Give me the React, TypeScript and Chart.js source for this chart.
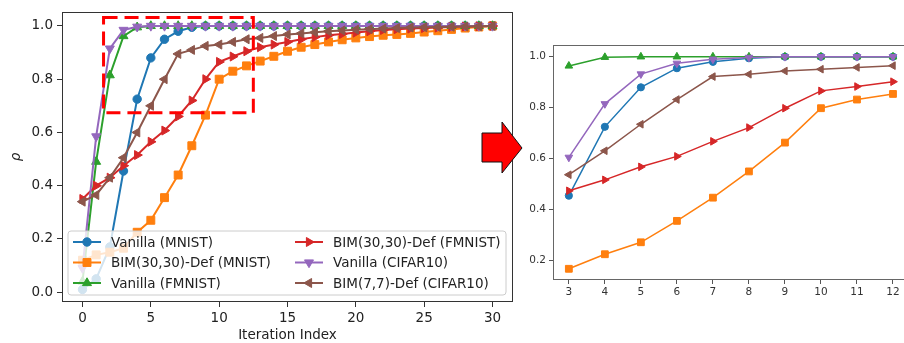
import React, { useEffect, useRef } from "react";
import { Chart, registerables } from "chart.js";
Chart.register(...registerables);

const FONT = "'DejaVu Sans', 'Liberation Sans', sans-serif";

// ---------- main chart data ----------
const iterationIndex = [0, 1, 2, 3, 4, 5, 6, 7, 8, 9, 10, 11, 12, 13, 14, 15, 16, 17, 18, 19, 20, 21, 22, 23, 24, 25, 26, 27, 28, 29, 30];
const vanillaMnist = [0.01, 0.05, 0.17, 0.455, 0.725, 0.88, 0.95, 0.98, 0.995, 1.0, 1.0, 1.0, 1.0, 1.0, 1.0, 1.0, 1.0, 1.0, 1.0, 1.0, 1.0, 1.0, 1.0, 1.0, 1.0, 1.0, 1.0, 1.0, 1.0, 1.0, 1.0];
const bimMnist = [0.12, 0.14, 0.15, 0.165, 0.225, 0.27, 0.355, 0.44, 0.55, 0.665, 0.8, 0.83, 0.85, 0.868, 0.886, 0.905, 0.92, 0.93, 0.94, 0.948, 0.955, 0.96, 0.965, 0.968, 0.972, 0.977, 0.982, 0.987, 0.992, 0.996, 1.0];
const vanillaFmnist = [0.04, 0.49, 0.815, 0.962, 0.995, 1.0, 1.0, 1.0, 1.0, 1.0, 1.0, 1.0, 1.0, 1.0, 1.0, 1.0, 1.0, 1.0, 1.0, 1.0, 1.0, 1.0, 1.0, 1.0, 1.0, 1.0, 1.0, 1.0, 1.0, 1.0, 1.0];
const bimFmnist = [0.35, 0.4, 0.43, 0.475, 0.515, 0.565, 0.607, 0.66, 0.72, 0.8, 0.865, 0.885, 0.905, 0.92, 0.93, 0.94, 0.95, 0.958, 0.965, 0.97, 0.975, 0.98, 0.985, 0.988, 0.99, 0.992, 0.994, 0.996, 0.998, 0.999, 1.0];
const vanillaCifar = [0.09, 0.585, 0.915, 0.985, 0.997, 1.0, 1.0, 1.0, 1.0, 1.0, 1.0, 1.0, 1.0, 1.0, 1.0, 1.0, 1.0, 1.0, 1.0, 1.0, 1.0, 1.0, 1.0, 1.0, 1.0, 1.0, 1.0, 1.0, 1.0, 1.0, 1.0];
const bimCifar = [0.34, 0.365, 0.43, 0.505, 0.6, 0.7, 0.8, 0.895, 0.91, 0.925, 0.93, 0.94, 0.95, 0.955, 0.962, 0.968, 0.972, 0.976, 0.98, 0.983, 0.986, 0.988, 0.99, 0.992, 0.994, 0.995, 0.996, 0.997, 0.998, 0.999, 1.0];

const mainXTicks = [0, 5, 10, 15, 20, 25, 30];
const mainYTicks = [0.0, 0.2, 0.4, 0.6, 0.8, 1.0];

// ---------- zoomed chart data ----------
const zoomIndex = [3, 4, 5, 6, 7, 8, 9, 10, 11, 12];
const zoomVanillaMnist = [0.455, 0.725, 0.88, 0.955, 0.98, 0.994, 1.0, 1.0, 1.0, 1.0];
const zoomBimMnist = [0.168, 0.225, 0.272, 0.356, 0.447, 0.55, 0.663, 0.798, 0.832, 0.854];
const zoomVanillaFmnist = [0.964, 0.998, 1.0, 1.0, 1.0, 1.0, 1.0, 1.0, 1.0, 1.0];
const zoomBimFmnist = [0.474, 0.517, 0.568, 0.609, 0.668, 0.722, 0.798, 0.866, 0.883, 0.902];
const zoomVanillaCifar = [0.605, 0.815, 0.932, 0.974, 0.99, 0.997, 1.0, 1.0, 1.0, 1.0];
const zoomBimCifar = [0.537, 0.631, 0.735, 0.832, 0.922, 0.931, 0.944, 0.951, 0.958, 0.965];

const zoomXTicks = [3, 4, 5, 6, 7, 8, 9, 10, 11, 12];
const zoomYTicks = [0.2, 0.4, 0.6, 0.8, 1.0];

// ---------- series meta ----------
const seriesNames = [
  "Vanilla (MNIST)",
  "BIM(30,30)-Def (MNIST)",
  "Vanilla (FMNIST)",
  "BIM(30,30)-Def (FMNIST)",
  "Vanilla (CIFAR10)",
  "BIM(7,7)-Def (CIFAR10)",
];
const seriesColors = ["#1f77b4", "#ff7f0e", "#2ca02c", "#d62728", "#9467bd", "#8c564b"];
const seriesMarkers = ["circle", "rect", "triangle", "triangle", "triangle", "triangle"];
const seriesRotations = [0, 0, 0, 90, 180, 270];

const mainSeries = [vanillaMnist, bimMnist, vanillaFmnist, bimFmnist, vanillaCifar, bimCifar];
const zoomSeries = [zoomVanillaMnist, zoomBimMnist, zoomVanillaFmnist, zoomBimFmnist, zoomVanillaCifar, zoomBimCifar];

type Sizes = { [k: string]: number };

function buildDatasets(xs: number[], series: number[][], sizes: Sizes, lw: number) {
  return series.map((vals, i) => ({
    label: seriesNames[i],
    data: vals.map((v, j) => ({ x: xs[j], y: v })),
    borderColor: seriesColors[i],
    backgroundColor: seriesColors[i],
    borderWidth: lw,
    pointStyle: seriesMarkers[i],
    pointRotation: seriesRotations[i],
    pointRadius: sizes[seriesMarkers[i]],
    pointBorderWidth: 1,
    pointBorderColor: seriesColors[i],
    pointBackgroundColor: seriesColors[i],
    order: series.length - 1 - i,
    tension: 0,
    fill: false,
  }));
}

function drawMarker(ctx: CanvasRenderingContext2D, style: string, rot: number, x: number, y: number, r: number, color: string) {
  ctx.save();
  ctx.fillStyle = color;
  ctx.strokeStyle = color;
  ctx.lineWidth = 1;
  ctx.beginPath();
  if (style === "circle") {
    ctx.arc(x, y, r, 0, Math.PI * 2);
  } else if (style === "rect") {
    const s = r * Math.SQRT1_2;
    ctx.rect(x - s, y - s, 2 * s, 2 * s);
  } else {
    let a = (rot * Math.PI) / 180;
    ctx.moveTo(x + Math.sin(a) * r, y - Math.cos(a) * r);
    a += (2 * Math.PI) / 3;
    ctx.lineTo(x + Math.sin(a) * r, y - Math.cos(a) * r);
    a += (2 * Math.PI) / 3;
    ctx.lineTo(x + Math.sin(a) * r, y - Math.cos(a) * r);
    ctx.closePath();
  }
  ctx.fill();
  ctx.stroke();
  ctx.restore();
}

type AxisParams = {
  xMin: number; xMax: number; yMin: number; yMax: number;
  xTicks: number[]; yTicks: number[];
  yWidth: number; xHeight: number;
  padding: { top: number; right: number; left: number; bottom: number };
  fontSize: number; tickLen: number; tickColor: string; labelColor: string;
  xPad: number; yPad: number;
  xTitle?: string; yTitle?: string;
};

function makeOptions(p: AxisParams): any {
  const font = { family: FONT, size: p.fontSize };
  return {
    responsive: false,
    animation: false,
    events: [],
    layout: { padding: p.padding },
    plugins: { legend: { display: false }, tooltip: { enabled: false } },
    scales: {
      x: {
        type: "linear",
        min: p.xMin,
        max: p.xMax,
        afterBuildTicks: (s: any) => { s.ticks = p.xTicks.map((v) => ({ value: v })); },
        afterFit: (s: any) => { s.height = p.xHeight; },
        grid: { display: true, drawOnChartArea: false, drawTicks: true, tickLength: p.tickLen, tickColor: p.tickColor, tickWidth: 1 },
        border: { display: false },
        ticks: { font, color: p.labelColor, padding: p.xPad, maxRotation: 0, autoSkip: false, callback: (v: number) => String(v) },
        title: p.xTitle
          ? { display: true, text: p.xTitle, color: p.labelColor, font: { family: FONT, size: 13.5 }, padding: { top: 0, bottom: -1 } }
          : { display: false },
      },
      y: {
        type: "linear",
        min: p.yMin,
        max: p.yMax,
        afterBuildTicks: (s: any) => { s.ticks = p.yTicks.map((v) => ({ value: v })); },
        afterFit: (s: any) => { s.width = p.yWidth; },
        grid: { display: true, drawOnChartArea: false, drawTicks: true, tickLength: p.tickLen, tickColor: p.tickColor, tickWidth: 1 },
        border: { display: false },
        ticks: { font, color: p.labelColor, padding: p.yPad, autoSkip: false, callback: (v: number) => v.toFixed(1) },
        title: p.yTitle
          ? { display: true, text: p.yTitle, color: p.labelColor, font: { family: FONT, size: 13.5, style: "italic" }, padding: { top: 8, bottom: 0 } }
          : { display: false },
      },
    },
  };
}

function spinesPlugin(color: string) {
  return {
    id: "spines",
    afterDatasetsDraw(chart: any) {
      const { ctx, chartArea: a } = chart;
      ctx.save();
      ctx.strokeStyle = color;
      ctx.lineWidth = 1;
      ctx.strokeRect(Math.round(a.left) + 0.5, Math.round(a.top) + 0.5, Math.round(a.right - a.left) - 1, Math.round(a.bottom - a.top) - 1);
      ctx.restore();
    },
  };
}

const zoomBox = { x1: 1.54, x2: 12.5, y1: 0.674, y2: 1.032 };

const annotationPlugin = {
  id: "annotations",
  afterDatasetsDraw(chart: any) {
    const { ctx, scales } = chart;
    const xs = scales.x, ys = scales.y;
    const l = xs.getPixelForValue(zoomBox.x1), r = xs.getPixelForValue(zoomBox.x2);
    const t = ys.getPixelForValue(zoomBox.y2), b = ys.getPixelForValue(zoomBox.y1);
    ctx.save();
    ctx.strokeStyle = "#ff0000";
    ctx.lineWidth = 3;
    ctx.setLineDash([14, 7]);
    ctx.strokeRect(l, t, r - l, b - t);
    ctx.restore();
  },
  afterDraw(chart: any) {
    const { ctx, chartArea: a } = chart;
    // legend
    const lx = a.left + 6, ly = a.bottom - 71, lw = 438, lh = 64;
    ctx.save();
    ctx.beginPath();
    const rr = 3;
    ctx.moveTo(lx + rr, ly);
    ctx.lineTo(lx + lw - rr, ly);
    ctx.arcTo(lx + lw, ly, lx + lw, ly + rr, rr);
    ctx.lineTo(lx + lw, ly + lh - rr);
    ctx.arcTo(lx + lw, ly + lh, lx + lw - rr, ly + lh, rr);
    ctx.lineTo(lx + rr, ly + lh);
    ctx.arcTo(lx, ly + lh, lx, ly + lh - rr, rr);
    ctx.lineTo(lx, ly + rr);
    ctx.arcTo(lx, ly, lx + rr, ly, rr);
    ctx.closePath();
    ctx.fillStyle = "rgba(255,255,255,0.8)";
    ctx.fill();
    ctx.strokeStyle = "#cccccc";
    ctx.lineWidth = 1;
    ctx.stroke();
    ctx.font = `13.5px ${FONT}`;
    ctx.textBaseline = "middle";
    ctx.textAlign = "left";
    const colX = [lx + 5, lx + 227];
    const rowY = [ly + 11, ly + 31.5, ly + 52];
    const sizes: Sizes = { circle: 4.2, rect: 5.6, triangle: 5.2 };
    for (let i = 0; i < seriesNames.length; i++) {
      const cx = colX[Math.floor(i / 3)];
      const cy = rowY[i % 3];
      ctx.strokeStyle = seriesColors[i];
      ctx.lineWidth = 2;
      ctx.beginPath();
      ctx.moveTo(cx, cy);
      ctx.lineTo(cx + 28, cy);
      ctx.stroke();
      drawMarker(ctx, seriesMarkers[i], seriesRotations[i], cx + 14, cy, sizes[seriesMarkers[i]], seriesColors[i]);
      ctx.fillStyle = "#222";
      ctx.fillText(seriesNames[i], cx + 38, cy + 1);
    }
    ctx.restore();

    // arrow
    ctx.save();
    ctx.beginPath();
    ctx.moveTo(482, 133);
    ctx.lineTo(502, 133);
    ctx.lineTo(502, 122);
    ctx.lineTo(522, 148);
    ctx.lineTo(502, 173);
    ctx.lineTo(502, 162);
    ctx.lineTo(482, 162);
    ctx.closePath();
    ctx.fillStyle = "#ff0000";
    ctx.fill();
    ctx.strokeStyle = "#111";
    ctx.lineWidth = 1;
    ctx.stroke();
    ctx.restore();
  },
};

export default function App() {
  const mainRef = useRef<HTMLCanvasElement>(null);
  const zoomRef = useRef<HTMLCanvasElement>(null);

  useEffect(() => {
    const main = new Chart(mainRef.current!, {
      type: "line",
      data: { datasets: buildDatasets(iterationIndex, mainSeries, { circle: 4.2, rect: 5.6, triangle: 5.2 }, 2) as any },
      options: makeOptions({
        xMin: -1.5, xMax: 31.5, yMin: -0.037, yMax: 1.052,
        xTicks: mainXTicks, yTicks: mainYTicks,
        yWidth: 62, xHeight: 41,
        padding: { top: 8, right: 32, left: 0, bottom: 0 },
        fontSize: 13.5, tickLen: 5, tickColor: "#333", labelColor: "#222",
        xPad: 3, yPad: 4,
        xTitle: "Iteration Index", yTitle: "ρ",
      }),
      plugins: [spinesPlugin("#333"), annotationPlugin],
    });
    const zoom = new Chart(zoomRef.current!, {
      type: "line",
      data: { datasets: buildDatasets(zoomIndex, zoomSeries, { circle: 3.6, rect: 4.8, triangle: 4.4 }, 1.5) as any },
      options: makeOptions({
        xMin: 2.56, xMax: 12.45, yMin: 0.124, yMax: 1.046,
        xTicks: zoomXTicks, yTicks: zoomYTicks,
        yWidth: 38, xHeight: 63,
        padding: { top: 45, right: 2.7, left: 0, bottom: 0 },
        fontSize: 10.5, tickLen: 4, tickColor: "#555", labelColor: "#333",
        xPad: 2, yPad: 3,
      }),
      plugins: [spinesPlugin("#666")],
    });
    return () => {
      main.destroy();
      zoom.destroy();
    };
  }, []);

  return (
    <div style={{ position: "fixed", left: 0, top: 0, width: 904, height: 343, overflow: "hidden", background: "#fff" }}>
      <canvas ref={mainRef} width={545} height={343} style={{ position: "absolute", left: 0, top: 0, width: 545, height: 343 }} />
      <canvas ref={zoomRef} width={400} height={343} style={{ position: "absolute", left: 515, top: 0, width: 400, height: 343 }} />
    </div>
  );
}
